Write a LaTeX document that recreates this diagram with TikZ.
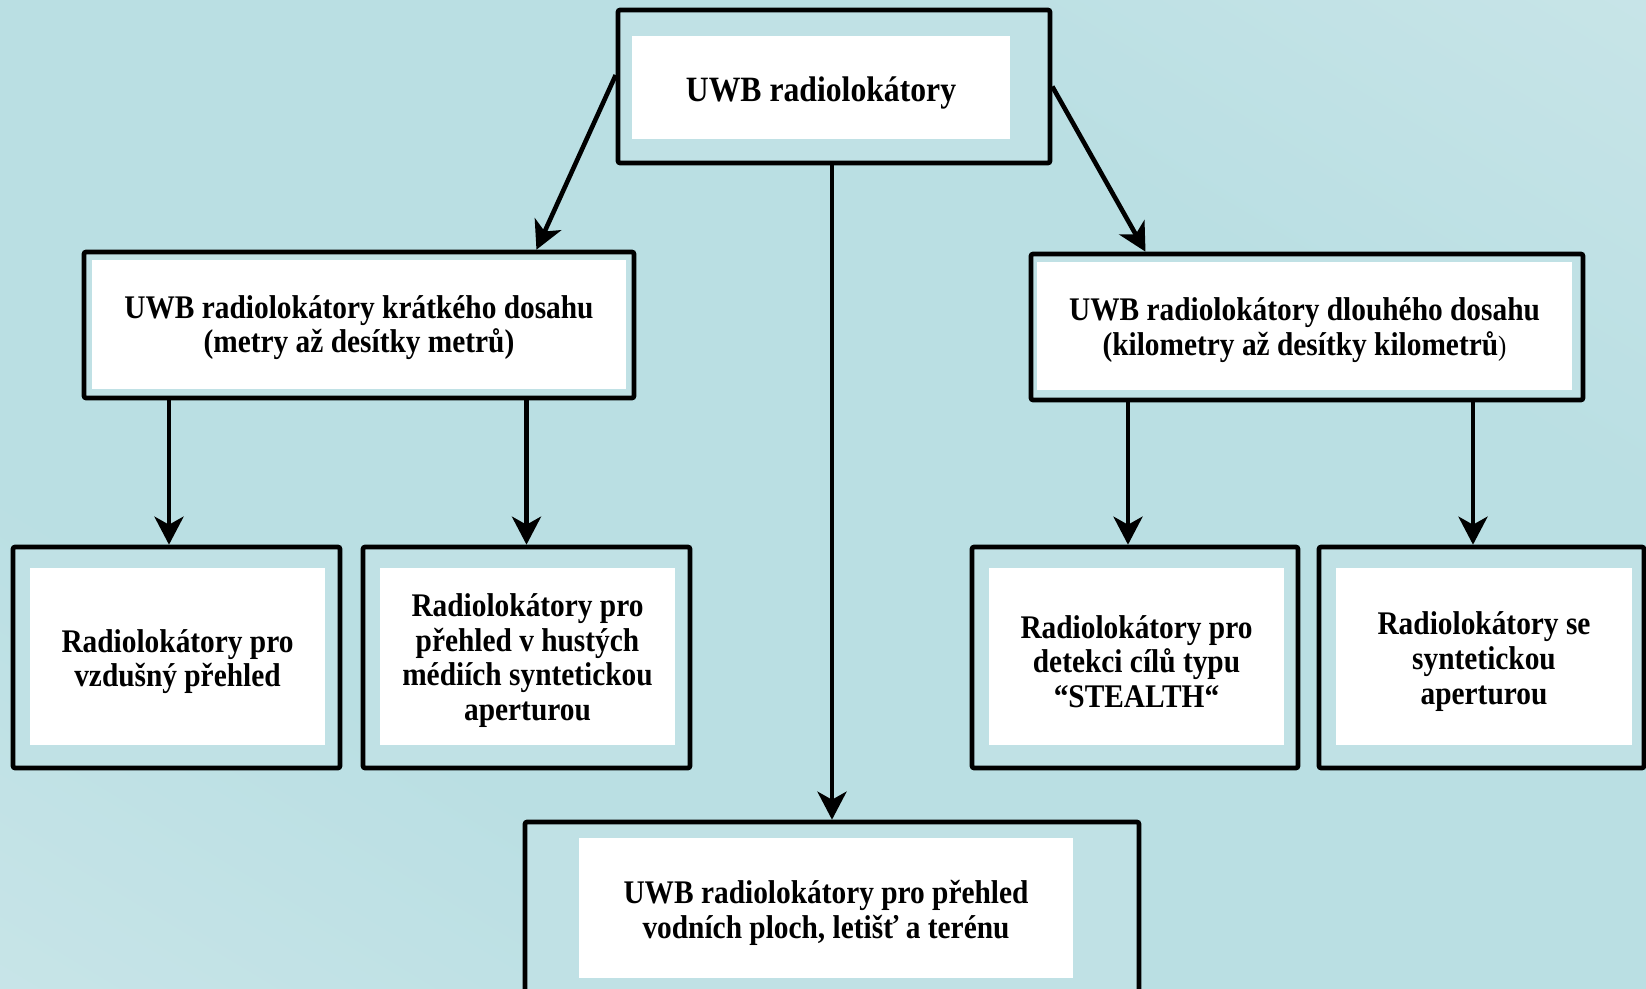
\documentclass[tikz,border=0pt]{standalone}
\usepackage{fontspec}
\setmainfont{Liberation Serif}[FakeStretch=0.89]
\usetikzlibrary{arrows.meta}
\definecolor{bglight}{HTML}{D3E9EC}
\definecolor{bgdark}{HTML}{BADFE3}
\definecolor{boxteal}{HTML}{C0E1E5}
\pgfdeclareverticalshading{bgshade}{100bp}{color(0bp)=(bglight); color(33bp)=(bgdark); color(67bp)=(bgdark); color(100bp)=(bglight)}
\newcommand\boxfont{\bfseries\fontsize{16.5}{17.3}\selectfont}
\tikzset{
  frame/.style={draw, line width=2.3pt, fill=boxteal, rounded corners=1pt, inner sep=0pt},
  card/.style={fill=white, inner sep=0pt},
  txt/.style={align=center, inner sep=0pt, font=\boxfont},
  arr/.style={line width=2.3pt, -{Stealth[length=14pt, width=14.5pt, inset=4pt]}}
}
\begin{document}
\begin{tikzpicture}[x=0.5pt, y=-0.5pt]
\useasboundingbox (0,0) rectangle (1646,989);
\clip (0,0) rectangle (1646,989);
\shade[shading=bgshade, shading angle=-31] (0,0) rectangle (1646,989);
% top level
\node[frame, minimum width=216pt, minimum height=76.5pt] (root) at (834,86.5) {};
\node[card, minimum width=189pt, minimum height=51.5pt] (rootin) at (821,87.5) {};
\node[txt, font=\bfseries\fontsize{17.8}{18.5}\selectfont] (roottx) at ([yshift=-2.5pt]rootin.center) {UWB radiolokátory};
% short and long range
\node[frame, minimum width=275pt, minimum height=73pt] (short) at (359,325) {};
\node[card, minimum width=267pt, minimum height=64.5pt] (shortin) at (359,324.5) {};
\node[txt] (shorttx) at ([yshift=-1.5pt]shortin.center) {UWB radiolokátory krátkého dosahu\\(metry až desítky metrů)};
\node[frame, minimum width=276pt, minimum height=73pt] (long) at (1307,327) {};
\node[card, minimum width=267.5pt, minimum height=64pt] (longin) at (1304.5,326) {};
\node[txt] (longtx) at ([yshift=-2pt]longin.center) {UWB radiolokátory dlouhého dosahu\\(kilometry až desítky kilometrů{\mdseries\fontsize{14}{17.3}\selectfont )}};
% leaves
\node[frame, minimum width=163.5pt, minimum height=110.5pt] (air) at (176.5,657.5) {};
\node[card, minimum width=147.5pt, minimum height=88.5pt] (airin) at (177.5,656.5) {};
\node[txt] (airtx) at ([yshift=-2.5pt]airin.center) {Radiolokátory pro\\vzdušný přehled};
\node[frame, minimum width=163.5pt, minimum height=110.5pt] (dense) at (526.5,657.5) {};
\node[card, minimum width=147.5pt, minimum height=88.5pt] (densein) at (527.5,656.5) {};
\node[txt] (densetx) at ([yshift=-2pt]densein.center) {Radiolokátory pro\\přehled v hustých\\médiích syntetickou\\aperturou};
\node[frame, minimum width=163pt, minimum height=110.5pt] (stealth) at (1135,657.5) {};
\node[card, minimum width=147.5pt, minimum height=88.5pt] (stealthin) at (1136.5,656.5) {};
\node[txt] (stealthtx) at ([yshift=-2.5pt]stealthin.center) {Radiolokátory pro\\detekci cílů typu\\“STEALTH“};
\node[frame, minimum width=162.5pt, minimum height=110.5pt] (sar) at (1481.5,657.5) {};
\node[card, minimum width=148pt, minimum height=88.5pt] (sarin) at (1484,656.5) {};
\node[txt] (sartx) at ([yshift=-2.5pt]sarin.center) {Radiolokátory se\\syntetickou\\aperturou};
% water, airports, terrain
\node[frame, minimum width=307pt, minimum height=91.5pt] (water) at (832,913.5) {};
\node[card, minimum width=247pt, minimum height=70pt] (waterin) at (826,908) {};
\node[txt] (watertx) at ([yshift=-2.5pt]waterin.center) {UWB radiolokátory pro přehled\\vodních ploch, letišť a terénu};
% connectors
\coordinate (tair) at ([xshift=-3.75pt]air.north);
\coordinate (tstealth) at ([xshift=-3.5pt]stealth.north);
\coordinate (tsar) at ([xshift=-4.25pt]sar.north);
\draw[arr] (root.177) -- (short.23);
\draw[arr] (root.east) -- (long.155);
\draw[arr] (root.south -| water.north) -- (water.north);
\draw[arr] (short.south -| tair) -- (tair);
\draw[arr] (short.south -| dense.north) -- (dense.north);
\draw[arr] (long.south -| tstealth) -- (tstealth);
\draw[arr] (long.south -| tsar) -- (tsar);
\end{tikzpicture}
\end{document}
